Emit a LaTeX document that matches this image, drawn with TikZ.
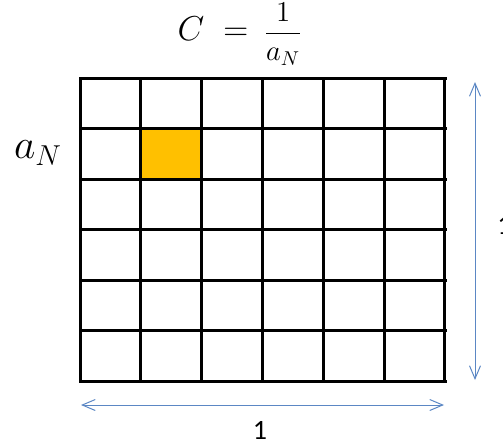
\documentclass[tikz,border=0pt]{standalone}
\usepackage{fontspec}
\newfontfamily\labelfont{Carlito}
\usepackage{xcolor}
\definecolor{cellGold}{HTML}{FFC000}
\definecolor{dimBlue}{HTML}{5B87C4}
\usepackage{tikz}
\usetikzlibrary{
    arrows.meta,
    positioning,
    calc
}
\tikzset{
    % Lines of the square grid
    grid line/.style={
        line width=1.5pt,
        draw=black,
        line cap=rect,
    },
    % The one filled cell
    marked cell/.style={
        fill=cellGold,
    },
    % Thin blue arrows for the side lengths
    dim arrow/.style={
        {Straight Barb[length=6.5pt, width=5.5pt]}-{Straight Barb[length=6.5pt, width=5.5pt]},
        line width=0.5pt,
        draw=dimBlue,
    },
    % Side length labels
    dim label/.style={
        font=\labelfont\fontsize{14}{16}\selectfont,
        inner sep=0pt,
    },
    % Formula labels
    formula/.style={
        inner sep=0pt,
    },
}

\begin{document}
\begin{tikzpicture}[x=0.5pt, y=-0.5pt]
    \useasboundingbox (0,0) rectangle (503,441);
    \clip (0,0) rectangle (503,441);

    % marked cell
    \fill[marked cell] (140.8,128.5) rectangle (201.7,179);

    % grid
    \foreach \i in {0,...,6} {
        \pgfmathsetmacro\gx{80+\i*60.83}
        \pgfmathsetmacro\gy{78+\i*50.5}
        \draw[grid line] (\gx,78) -- (\gx,381);
        \draw[grid line] (80,\gy) -- (445,\gy);
    }

    % formulas
    \node (cellSize) [formula] at (240,34) {\LARGE $C \;=\;$\,\Large $\displaystyle\frac{1}{a_N}$};
    \node (sideCount) [formula] at (38,153) {\huge $a_N$};

    % side lengths
    \coordinate (vTop) at (475,82);
    \coordinate (vBot) at (475,380);
    \coordinate (hLeft) at (81,405);
    \coordinate (hRight) at (444,405);
    \draw[dim arrow] (vTop) -- (vBot);
    \draw[dim arrow] (hLeft) -- (hRight);
    \node (vLength) [dim label, anchor=west] at (497,225) {1};
    \node (hLength) [dim label] at (260,430) {1};
\end{tikzpicture}
\end{document}
